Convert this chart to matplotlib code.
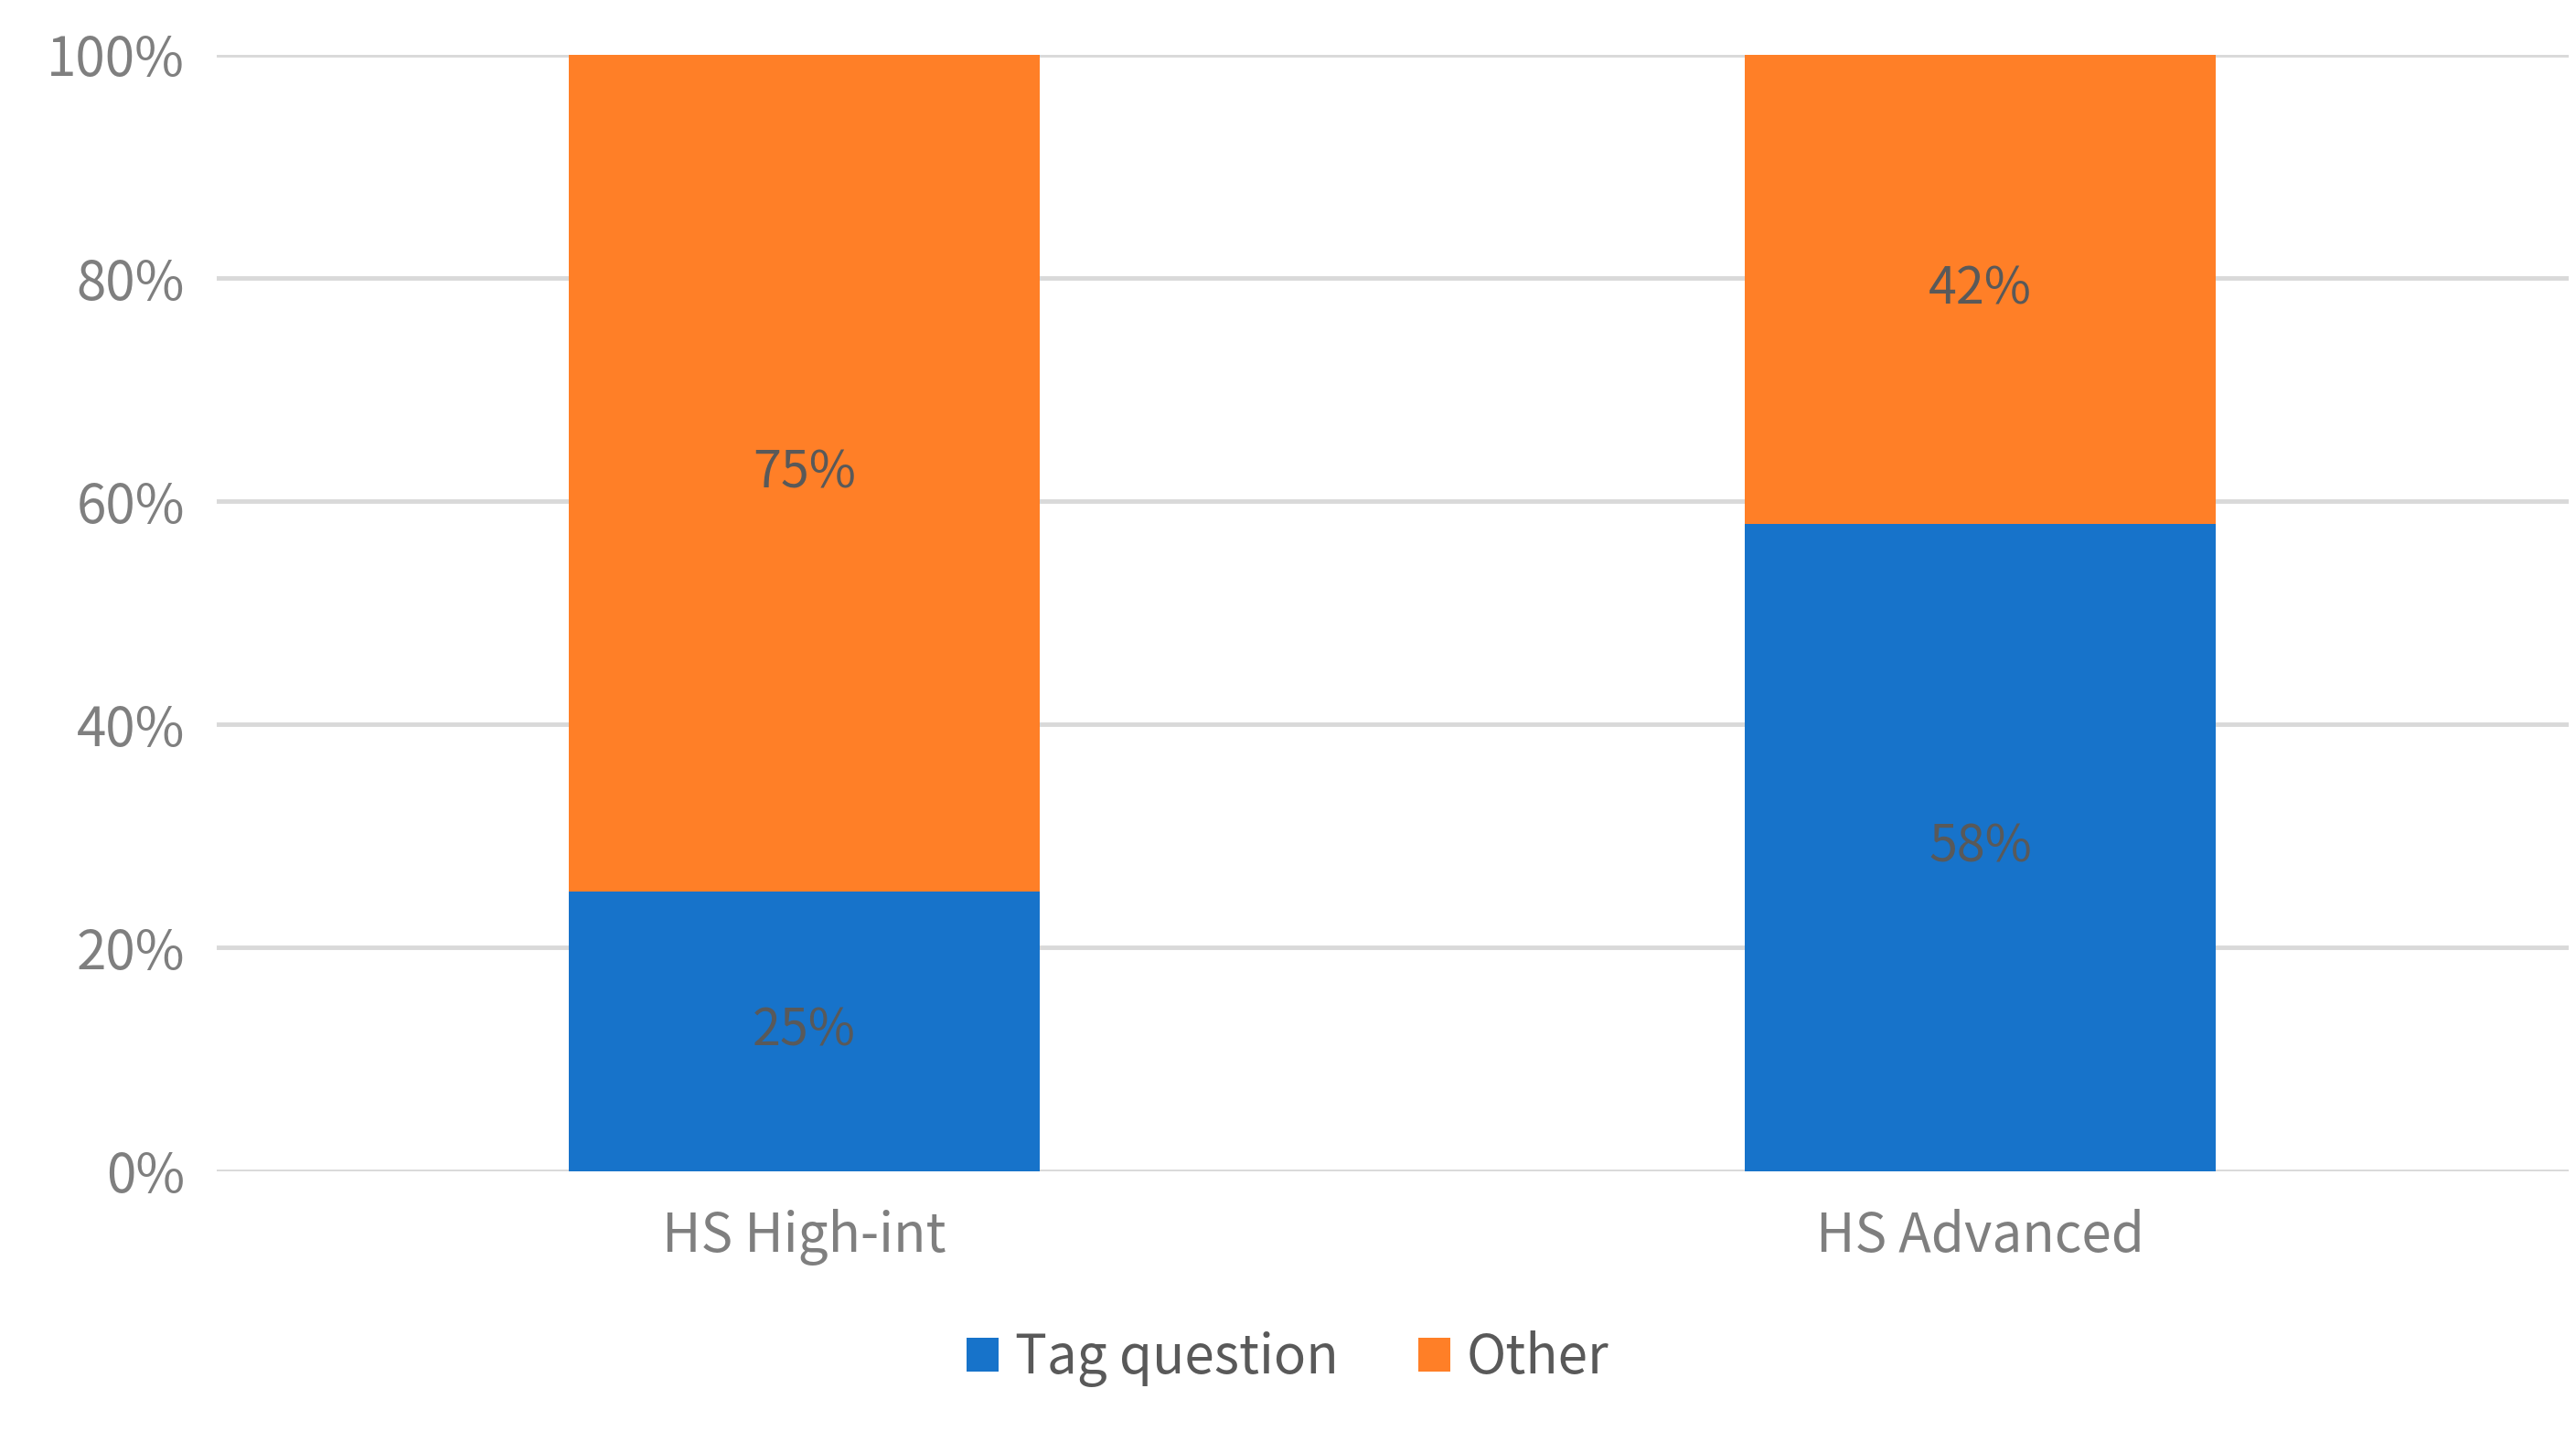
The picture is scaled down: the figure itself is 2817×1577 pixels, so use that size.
import numpy as np
import matplotlib.pyplot as plt

categories = ['HS High-int', 'HS Advanced']
tag_question = [25, 58]
other = [75, 42]

plt.rcParams['font.family'] = ['Noto Sans CJK SC', 'DejaVu Sans']

fig = plt.figure(figsize=(28.17, 15.77), dpi=100)
ax = fig.add_axes([0.084, 0.188, 0.913, 0.774])

x = np.arange(len(categories))
blue = '#1773CA'
orange = '#FF7F27'
b1 = ax.bar(x, tag_question, 0.4, color=blue, label='Tag question', zorder=3)
b2 = ax.bar(x, other, 0.4, bottom=tag_question, color=orange, label='Other', zorder=3)

for i in range(len(categories)):
    ax.text(x[i], tag_question[i] / 2, f'{tag_question[i]}%', ha='center', va='center',
            fontsize=40, color='#595959', zorder=4)
    ax.text(x[i], tag_question[i] + other[i] / 2, f'{other[i]}%', ha='center', va='center',
            fontsize=40, color='#595959', zorder=4)

ax.set_xlim(-0.5, 1.5)
ax.set_ylim(0, 100)
ax.set_yticks(np.arange(0, 101, 20))
ax.set_yticklabels([f'{v}%' for v in range(0, 101, 20)])
ax.set_xticks(x)
ax.set_xticklabels(categories)
ax.tick_params(axis='both', length=0, labelsize=42, colors='#7F7F7F')
ax.tick_params(axis='x', pad=30)
ax.tick_params(axis='y', pad=25)
ax.yaxis.grid(True, color='#D9D9D9', linewidth=3.5, zorder=0)
for s in ax.spines.values():
    s.set_visible(False)

leg = fig.legend(loc='lower center', bbox_to_anchor=(0.5, 0.005), ncol=2, frameon=False,
                 fontsize=42, handlelength=0.6, handleheight=0.6, handletextpad=0.3,
                 columnspacing=1.5)
for t in leg.get_texts():
    t.set_color('#595959')

fig.savefig('out.png', dpi=100)
